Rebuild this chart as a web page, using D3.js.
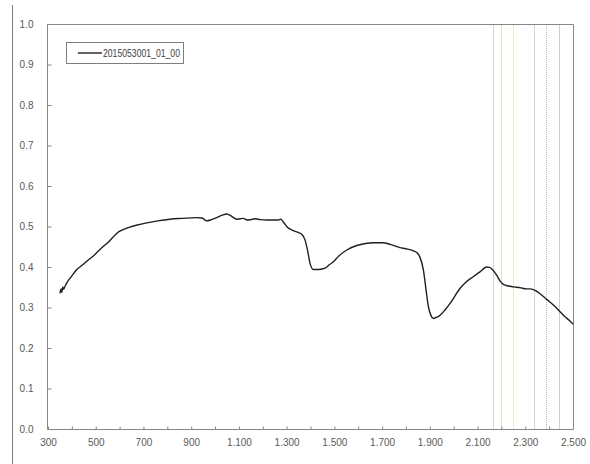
<!DOCTYPE html>
<html>
<head>
<meta charset="utf-8">
<script src="https://cdn.jsdelivr.net/npm/d3@7"></script>
<style>
  html, body { margin: 0; padding: 0; background: #fff; }
  svg { display: block; }
  .axis text { font-family: "Liberation Sans", Arial, sans-serif; font-size: 10px; fill: #595959; }
  .legend text { font-family: "Liberation Sans", Arial, sans-serif; font-size: 10.5px; fill: #404040; }
</style>
</head>
<body>
<svg id="chart" width="590" height="464"></svg>
<script>
// Spectral reflectance of sample 2015053001_01_00
const seriesName = "2015053001_01_00";

const wavelength = [
  350, 355, 358, 362, 366, 371, 380, 400, 420, 448, 470, 490, 510, 530, 550, 570, 590, 610, 640, 670,
  714, 760, 811, 860, 923, 945, 965, 985, 1007, 1030, 1049, 1070, 1091, 1105, 1118, 1135, 1150, 1167, 1190, 1216,
  1240, 1265, 1275, 1290, 1300, 1328, 1350, 1363, 1377, 1388, 1398, 1412, 1435, 1461, 1480, 1496, 1520, 1552, 1594, 1630,
  1663, 1705, 1733, 1775, 1800, 1831, 1845, 1858, 1873, 1885, 1894, 1905, 1915, 1930, 1943, 1965, 1985, 2005, 2026, 2050,
  2082, 2110, 2138, 2150, 2162, 2180, 2195, 2208, 2230, 2250, 2278, 2306, 2320, 2334, 2348, 2362, 2390, 2418, 2440, 2465,
  2485, 2500
];

const reflectance = [
  0.335, 0.346, 0.337, 0.351, 0.345, 0.352, 0.362, 0.378, 0.393, 0.407, 0.418, 0.427, 0.439, 0.450, 0.460, 0.472, 0.484, 0.491, 0.498, 0.503,
  0.509, 0.514, 0.518, 0.520, 0.522, 0.521, 0.514, 0.517, 0.522, 0.528, 0.531, 0.525, 0.518, 0.519, 0.520, 0.516, 0.517, 0.519, 0.517, 0.516,
  0.516, 0.516, 0.518, 0.508, 0.500, 0.490, 0.485, 0.481, 0.467, 0.440, 0.409, 0.394, 0.394, 0.397, 0.406, 0.413, 0.428, 0.442, 0.453, 0.458,
  0.460, 0.460, 0.456, 0.448, 0.445, 0.440, 0.436, 0.425, 0.393, 0.340, 0.302, 0.280, 0.273, 0.276, 0.281, 0.295, 0.310, 0.328, 0.347, 0.362,
  0.376, 0.388, 0.400, 0.399, 0.394, 0.380, 0.365, 0.357, 0.353, 0.351, 0.349, 0.346, 0.346, 0.344, 0.340, 0.334, 0.320, 0.306, 0.293, 0.278,
  0.268, 0.259
];

// Band marker wavelengths (SWIR)
const bandLines = [2165, 2200, 2250, 2335, 2385, 2440];
const bandColors = ["#e6cece", "#f0ddbc", "#e8edcc", "#c2dae2", "#b8b8b8", "#c6cee0"];

const xTicks = d3.range(300, 2501, 100);
const xLabels = d3.range(300, 2501, 200);
const yTicks = d3.range(0, 1.0001, 0.1);

const svg = d3.select("#chart");
const W = 590, H = 464;
const plot = { left: 48, right: 573, top: 24, bottom: 429 };

const x = d3.scaleLinear().domain([300, 2500]).range([plot.left, plot.right]);
const y = d3.scaleLinear().domain([0, 1]).range([plot.bottom, plot.top]);

const locale = d3.formatLocale({ decimal: ",", thousands: ".", grouping: [3], currency: ["", ""] });
const fmtX = locale.format(",");

// outer frame edge on the left
svg.append("line")
  .attr("x1", 12.5).attr("x2", 12.5).attr("y1", 5).attr("y2", H)
  .attr("stroke", "#7f7f7f").attr("stroke-width", 1);

// band marker lines
svg.append("g").selectAll("line")
  .data(bandLines)
  .join("line")
  .attr("x1", d => Math.round(x(d)) + 0.5)
  .attr("x2", d => Math.round(x(d)) + 0.5)
  .attr("y1", plot.top)
  .attr("y2", plot.bottom)
  .attr("stroke", (d, i) => bandColors[i])
  .attr("stroke-width", 1)
  .attr("stroke-dasharray", (d, i) => i === 4 ? "1,1" : null);

// plot area border (top and right)
svg.append("path")
  .attr("d", `M${plot.left},${plot.top + 0.5}H${plot.right + 0.5}V${plot.bottom}`)
  .attr("fill", "none").attr("stroke", "#868686").attr("stroke-width", 1);

// axes
const xAxis = d3.axisBottom(x)
  .tickValues(xTicks)
  .tickSizeInner(-3).tickSizeOuter(0)
  .tickPadding(9)
  .tickFormat(d => xLabels.includes(d) ? fmtX(d) : "");

const yAxis = d3.axisLeft(y)
  .tickValues(yTicks)
  .tickSizeInner(-4).tickSizeOuter(0)
  .tickPadding(14)
  .tickFormat(d3.format(".1f"));

const gx = svg.append("g").attr("class", "axis")
  .attr("transform", `translate(0,${plot.bottom + 0.5})`)
  .call(xAxis);
const gy = svg.append("g").attr("class", "axis")
  .attr("transform", `translate(${plot.left - 0.5},0)`)
  .call(yAxis);

[gx, gy].forEach(g => {
  g.select(".domain").attr("stroke", "#868686");
  g.selectAll(".tick line").attr("stroke", "#868686");
});
gy.select(".domain").attr("d", `M0,${plot.bottom + 0.5}V${plot.top}`);
gx.select(".domain").attr("d", `M${plot.left - 0.5},0H${plot.right + 0.5}`);

// spectrum
const pts = wavelength.map((w, i) => [w, reflectance[i]]);
const line = d3.line()
  .x(d => x(d[0]))
  .y(d => y(d[1]))
  .curve(d3.curveMonotoneX);

svg.append("path")
  .datum(pts)
  .attr("d", line)
  .attr("fill", "none")
  .attr("stroke", "#1f1f1f")
  .attr("stroke-width", 1.4)
  .attr("stroke-linejoin", "round");

// legend
const lg = svg.append("g").attr("class", "legend");
lg.append("rect")
  .attr("x", 66.5).attr("y", 42.5).attr("width", 117).attr("height", 21)
  .attr("fill", "#fff").attr("stroke", "#7f7f7f").attr("stroke-width", 1);
lg.append("line")
  .attr("x1", 78).attr("x2", 102).attr("y1", 53).attr("y2", 53)
  .attr("stroke", "#1f1f1f").attr("stroke-width", 1.4);
lg.append("text")
  .attr("x", 103).attr("y", 56.5)
  .attr("textLength", 77)
  .attr("lengthAdjust", "spacingAndGlyphs")
  .text(seriesName);
</script>
</body>
</html>
